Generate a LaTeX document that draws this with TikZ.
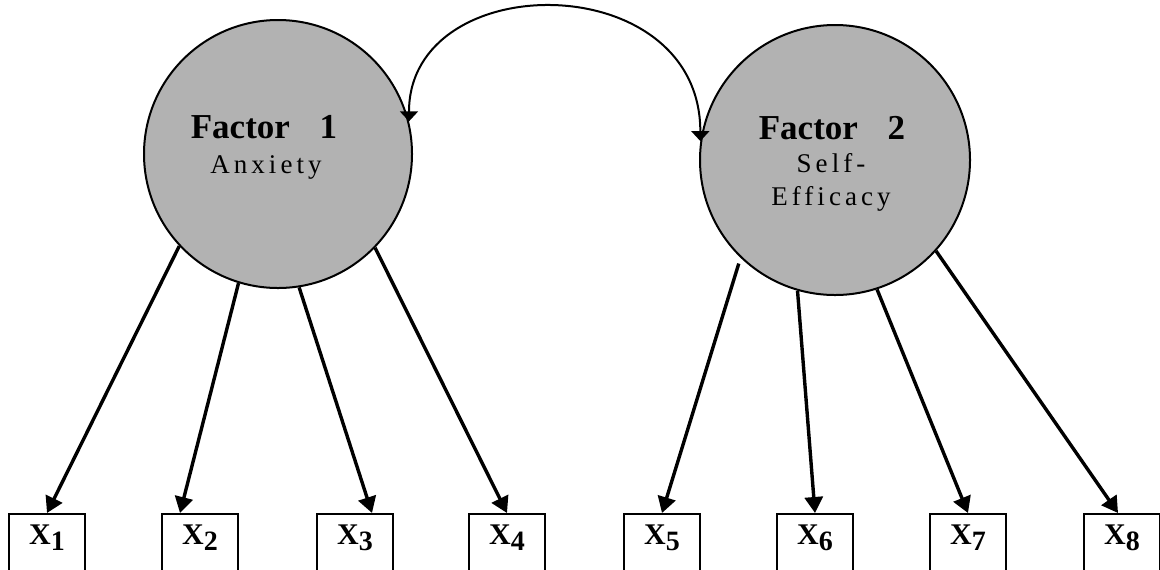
\documentclass[tikz,border=0pt]{standalone}
\usepackage{fontspec}
\setmainfont{Liberation Serif}
\newfontfamily\spacedfont[LetterSpace=15]{Liberation Serif}
\usetikzlibrary{arrows.meta}

\newcommand{\xitem}[1]{X\raisebox{-3pt}{\fontsize{14}{14}\selectfont #1}}

\begin{document}
\begin{tikzpicture}[x=0.5pt, y=-0.5pt,
        factor_style/.style={circle, draw=black, line width=1pt, fill=black!30, minimum size=134pt, inner sep=0pt},
        item_style/.style={rectangle, draw=black, line width=1pt, minimum width=38pt, inner sep=0pt, anchor=north,
          text height=15pt, text depth=16pt, font=\fontsize{15}{15}\selectfont\bfseries},
        title_style/.style={font=\fontsize{17.5}{17.5}\selectfont\bfseries, inner sep=0pt, anchor=base},
        sub_style/.style={font=\fontsize{13.5}{16.5}\selectfont\spacedfont, inner sep=0pt, anchor=base, align=center},
        load_style/.style={draw=black, line width=1.7pt, -{Triangle[length=8pt,width=9pt]}},
        corr_style/.style={draw=black, line width=1pt, {Triangle[length=5pt,width=9pt]}-{Triangle[length=5pt,width=9pt]}}]

        \useasboundingbox (0,0) rectangle (1160,569);

        % latent factors
        \node [factor_style] (f1) at (278,154) {};
        \node [factor_style, minimum size=135pt] (f2) at (835,160) {};
        \node [title_style] (f1title) at (264,138) {Factor\hspace{0.85em}1};
        \node [sub_style] (f1sub) at (266,173) {Anxiety};
        \node [title_style] (f2title) at (832,139) {Factor\hspace{0.85em}2};
        \node [sub_style] (f2sub) at (831,205) {Self-\\Efficacy};

        % observed items
        \node [item_style] (x1) at (47,513) {\xitem{1}};
        \node [item_style] (x2) at (200,513) {\xitem{2}};
        \node [item_style] (x3) at (355,513) {\xitem{3}};
        \node [item_style] (x4) at (507,513) {\xitem{4}};
        \node [item_style] (x5) at (662,513) {\xitem{5}};
        \node [item_style] (x6) at (815,513) {\xitem{6}};
        \node [item_style] (x7) at (968,513) {\xitem{7}};
        \node [item_style] (x8) at (1122,513) {\xitem{8}};

        % loadings
        \draw [load_style] (f1.223) -- (x1.north);
        \draw [load_style] (f1.253) -- ([xshift=-10pt]x2.north);
        \draw [load_style] (f1.279) -- ([xshift=8.5pt]x3.north);
        \draw [load_style] (f1.316) -- (x4.north);
        \draw [load_style, shorten <=3pt] (f2.226) -- (x5.north);
        \draw [load_style] (f2.254) -- (x6.north);
        \draw [load_style] (f2.288) -- (x7.north);
        \draw [load_style] (f2.318) -- ([xshift=-2pt]x8.north);

        % correlation
        \draw [corr_style] (f1.14) .. controls +(0,-155) and +(0,-175) .. (f2.172);
\end{tikzpicture}
\end{document}
